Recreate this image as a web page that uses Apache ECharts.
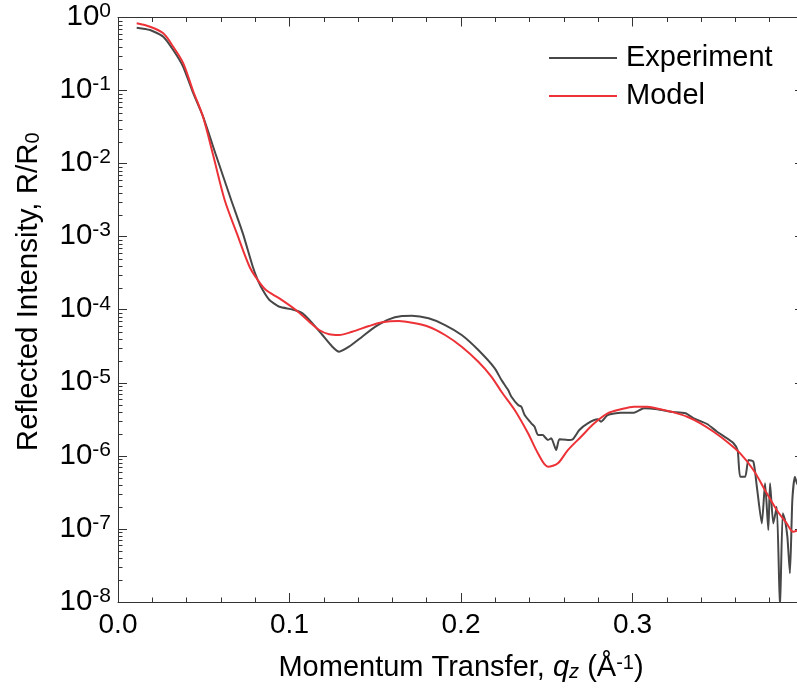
<!DOCTYPE html>
<html><head><meta charset="utf-8">
<script src="https://cdn.jsdelivr.net/npm/echarts@6/dist/echarts.min.js"></script>
<style>html,body{margin:0;padding:0;overflow:hidden;background:#fff}#c{width:820px;height:690px}</style>
</head><body><div id="c"></div>
<script>
// ---- data ----
const experimentQ = [0.0109,0.0187,0.0264,0.0322,0.0380,0.0438,0.0496,0.0573,0.0660,0.0728,0.0786,0.0815,0.0844,0.0883,0.0941,0.1018,0.1076,0.1134,0.1192,0.1250,0.1289,0.1347,0.1424,0.1501,0.1579,0.1656,0.1714,0.1811,0.1907,0.2004,0.2101,0.2197,0.2236,0.2275,0.2294,0.2333,0.2352,0.2371,0.2410,0.2429,0.2449,0.2478,0.2487,0.2507,0.2526,0.2555,0.2574,0.2623,0.2652,0.2690,0.2739,0.2797,0.2816,0.2855,0.2932,0.3009,0.3067,0.3145,0.3222,0.3309,0.3357,0.3435,0.3493,0.3551,0.3589,0.3613,0.3628,0.3657,0.3676,0.3705,0.3725,0.3754,0.3773,0.3792,0.3802,0.3821,0.3841,0.3860,0.3876,0.3889,0.3903,0.3918,0.3932,0.3947,0.3959,0.3980];
const experimentR = [0.725,0.674,0.546,0.359,0.212,0.0926,0.0439,0.0127,3.18e-3,1.11e-3,3.88e-4,2.55e-4,1.86e-4,1.36e-4,1.10e-4,1.01e-4,8.93e-5,6.52e-5,4.51e-5,3.12e-5,2.67e-5,3.12e-5,4.28e-5,5.86e-5,7.40e-5,8.21e-5,8.28e-5,7.63e-5,6.18e-5,4.51e-5,2.81e-5,1.58e-5,1.09e-5,7.97e-6,6.45e-6,4.97e-6,4.71e-6,3.62e-6,2.79e-6,2.51e-6,1.93e-6,1.93e-6,1.83e-6,1.65e-6,1.74e-6,1.20e-6,1.69e-6,1.65e-6,1.69e-6,2.26e-6,2.79e-6,3.16e-6,2.94e-6,3.62e-6,3.90e-6,3.90e-6,4.48e-6,4.34e-6,4.02e-6,3.83e-6,3.27e-6,2.73e-6,2.14e-6,1.74e-6,1.49e-6,1.20e-6,5.19e-7,5.19e-7,8.77e-7,8.31e-7,3.79e-7,1.19e-7,4.21e-7,9.66e-8,4.21e-7,1.19e-7,2.01e-7,8e-9,1.64e-7,1.33e-7,7.83e-8,2.47e-8,2.49e-7,5.19e-7,4.21e-7,3.5e-7];
const modelQ = [0.0109,0.0187,0.0264,0.0322,0.0380,0.0438,0.0496,0.0555,0.0622,0.0693,0.0767,0.0815,0.0863,0.0941,0.1037,0.1115,0.1173,0.1231,0.1289,0.1366,0.1463,0.1540,0.1637,0.1714,0.1811,0.1907,0.2004,0.2101,0.2178,0.2236,0.2313,0.2391,0.2449,0.2507,0.2565,0.2623,0.2700,0.2777,0.2855,0.2932,0.3009,0.3087,0.3164,0.3241,0.3319,0.3396,0.3473,0.3551,0.3628,0.3705,0.3783,0.3841,0.3899,0.3937,0.3959,0.3985];
const modelR = [0.833,0.748,0.608,0.398,0.238,0.0986,0.0435,0.0130,3.18e-3,1.11e-3,3.88e-4,2.55e-4,1.86e-4,1.43e-4,9.91e-5,6.86e-5,5.28e-5,4.61e-5,4.51e-5,5.00e-5,5.98e-5,6.73e-5,7.01e-5,6.65e-5,5.86e-5,4.51e-5,3.12e-5,1.94e-5,1.21e-5,7.55e-6,4.25e-6,2.04e-6,1.08e-6,7.11e-7,7.91e-7,1.20e-6,1.83e-6,2.79e-6,3.82e-6,4.34e-6,4.71e-6,4.71e-6,4.34e-6,3.94e-6,3.43e-6,2.79e-6,2.14e-6,1.56e-6,1.08e-6,6.40e-7,3.08e-7,1.82e-7,1.19e-7,9.16e-8,9.46e-8,1.0e-7];
const seriesNames = ['Experiment', 'Model'];
const xTickLabels = ['0.0', '0.1', '0.2', '0.3', ''];
const yDecadeExponents = [-8, -7, -6, -5, -4, -3, -2, -1, 0];
const yMinorMantissas = [2, 3, 4, 5, 6, 7, 8, 9];

// ---- build ----
const expData = experimentQ.map((q, i) => [q, experimentR[i]]);
const modData = modelQ.map((q, i) => [q, modelR[i]]);
const minorVals = [];
yDecadeExponents.slice(0, -1).forEach(e => yMinorMantissas.forEach(m => minorVals.push([0, m * Math.pow(10, e)])));

const FONT = 'Liberation Sans, Arial, Helvetica, sans-serif';
const AX = '#333333';
const chart = echarts.init(document.getElementById('c'), null, {renderer: 'canvas'});

const yLabelFmt = v => {
  const e = Math.round(Math.log10(v));
  return '{b|10}{s|' + e + '}';
};
const xLabelFmt = v => {
  const i = Math.round(v / 0.1);
  return xTickLabels[i] !== undefined ? xTickLabels[i] : '';
};

const option = {
  animation: false,
  backgroundColor: '#fff',
  textStyle: {fontFamily: FONT},
  grid: {left: 114.5, top: 17.5, right: 16, bottom: 88, containLabel: false},
  legend: {
    orient: 'vertical', left: 549, top: 43, padding: 0, itemWidth: 68, itemHeight: 2, itemGap: 8,
    icon: 'rect', data: seriesNames,
    textStyle: {fontSize: 29, color: '#000', fontFamily: FONT, lineHeight: 30, padding: [0, 0, 0, 4]}
  },
  xAxis: [{
    type: 'value', min: 0, max: 0.4, interval: 0.1, position: 'bottom',
    axisLine: {show: true, onZero: false, lineStyle: {color: AX, width: 1}},
    axisTick: {show: true, inside: true, length: 9, lineStyle: {color: AX}},
    minorTick: {show: true, splitNumber: 5, length: 4.5, lineStyle: {color: AX}},
    splitLine: {show: false},
    axisLabel: {show: true, margin: 9, fontSize: 28, color: '#000', fontFamily: FONT, formatter: xLabelFmt, showMaxLabel: false},
    name: '{a|Momentum Transfer, }{i|q}{sub|z}{a| (Å}{sup|-1}{a|)}',
    nameLocation: 'middle', nameGap: 51,
    nameTextStyle: {
      color: '#000', fontFamily: FONT,
      rich: {
        a: {fontSize: 29, lineHeight: 29, verticalAlign: 'top', color: '#000', fontFamily: FONT},
        i: {fontSize: 29, lineHeight: 29, verticalAlign: 'top', fontStyle: 'italic', color: '#000', fontFamily: FONT},
        sub: {fontSize: 20, lineHeight: 20, verticalAlign: 'bottom', fontStyle: 'italic', padding: [13, 0, 0, 0], color: '#000', fontFamily: FONT},
        sup: {fontSize: 20, lineHeight: 20, verticalAlign: 'top', color: '#000', fontFamily: FONT}
      }
    }
  }, {
    type: 'value', min: 0, max: 0.4, interval: 0.1, position: 'top',
    axisLine: {show: true, onZero: false, lineStyle: {color: AX, width: 1}},
    axisTick: {show: true, inside: true, length: 9, lineStyle: {color: AX}},
    minorTick: {show: true, splitNumber: 5, length: 4.5, lineStyle: {color: AX}},
    splitLine: {show: false},
    axisLabel: {show: false}
  }],
  yAxis: [{
    type: 'log', logBase: 10, min: 1e-8, max: 1, interval: 1, position: 'left',
    axisLine: {show: true, onZero: false, lineStyle: {color: AX, width: 1}},
    axisTick: {show: true, inside: true, length: 9, lineStyle: {color: AX}},
    splitLine: {show: false},
    axisLabel: {
      show: true, margin: 7, formatter: yLabelFmt,
      rich: {
        b: {fontSize: 29.5, lineHeight: 29, verticalAlign: 'bottom', color: '#000', fontFamily: FONT},
        s: {fontSize: 21, lineHeight: 19, verticalAlign: 'bottom', padding: [0, 0, 10, 0], color: '#000', fontFamily: FONT}
      }
    },
    name: '{a|Reflected Intensity, R/R}{sub|0}',
    nameLocation: 'middle', nameGap: 75,
    nameTextStyle: {
      color: '#000', fontFamily: FONT, padding: [0, 0, 0, 36],
      rich: {
        a: {fontSize: 29.5, lineHeight: 29, verticalAlign: 'top', color: '#000', fontFamily: FONT},
        sub: {fontSize: 20, lineHeight: 20, verticalAlign: 'bottom', padding: [15, 0, 0, 0], color: '#000', fontFamily: FONT}
      }
    }
  }, {
    type: 'log', logBase: 10, min: 1e-8, max: 1, interval: 1, position: 'right',
    axisLine: {show: true, onZero: false, lineStyle: {color: AX, width: 1}},
    axisTick: {show: true, inside: true, length: 9, lineStyle: {color: AX}},
    splitLine: {show: false},
    axisLabel: {show: false}
  }],
  series: [{
    name: seriesNames[0], type: 'line', data: expData, xAxisIndex: 0, yAxisIndex: 0,
    showSymbol: false, symbol: 'none', smooth: 0.2, clip: true,
    lineStyle: {color: '#474747', width: 2}, itemStyle: {color: '#474747'}, z: 3
  }, {
    name: seriesNames[1], type: 'line', data: modData, xAxisIndex: 0, yAxisIndex: 0,
    showSymbol: false, symbol: 'none', smooth: 0.3, clip: true,
    lineStyle: {color: '#ec3237', width: 2}, itemStyle: {color: '#ec3237'}, z: 4
  }, {
    type: 'custom', name: 'minorTicks', xAxisIndex: 0, yAxisIndex: 0, silent: true, clip: false,
    data: minorVals, z: 5,
    renderItem: (params, api) => {
      const v = api.value(1);
      const pl = api.coord([0, v]);
      const pr = api.coord([0.4, v]);
      const y = Math.round(pl[1]) + 0.5;
      return {type: 'group', children: [
        {type: 'line', shape: {x1: pl[0], y1: y, x2: pl[0] + 4.5, y2: y}, style: {stroke: AX, lineWidth: 1}},
        {type: 'line', shape: {x1: pr[0] - 4.5, y1: y, x2: pr[0], y2: y}, style: {stroke: AX, lineWidth: 1}}
      ]};
    }
  }]
};
chart.setOption(option);
</script>
</body></html>
